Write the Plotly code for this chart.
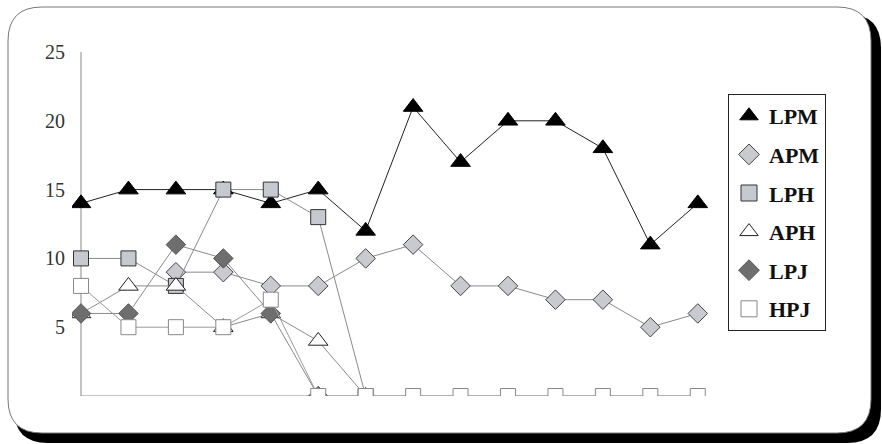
import plotly.graph_objects as go

# 14 observations along the x axis (no x labels on the original)
points = list(range(1, 15))

LPM = [14, 15, 15, 15, 14, 15, 12, 21, 17, 20, 20, 18, 11, 14]
APM = [None, None, 9, 9, 8, 8, 10, 11, 8, 8, 7, 7, 5, 6]
LPH = [10, 10, 8, 15, 15, 13, 0]
APH = [6, 8, 8, 5, 6, 4, 0]
LPJ = [6, 6, 11, 10, 6, 0]
HPJ = [8, 5, 5, 5, 7, 0, 0, 0, 0, 0, 0, 0, 0, 0]

y_ticks = [5, 10, 15, 20, 25]

series = [
    ("LPM", LPM, "triangle-up", 17, "black", "black", "#222222"),
    ("APM", APM, "diamond", 15, "#c9cacf", "#444444", "#8a8a8a"),
    ("LPH", LPH, "square", 15, "#c6c9d0", "#333333", "#8a8a8a"),
    ("APH", APH, "triangle-up", 17, "white", "#222222", "#8a8a8a"),
    ("LPJ", LPJ, "diamond", 15, "#6e6e6e", "#555555", "#8a8a8a"),
    ("HPJ", HPJ, "square", 15, "white", "#888888", "#9a9a9a"),
]

fig = go.Figure()

for name, vals, sym, size, fill, edge, lcol in series:
    fig.add_trace(go.Scatter(
        x=points[:len(vals)], y=vals, mode="lines+markers",
        line=dict(color=lcol, width=1),
        marker=dict(symbol=sym, size=size, color=fill, line=dict(color=edge, width=1)),
        showlegend=False, connectgaps=False,
    ))
    # marker-only entry for the legend
    fig.add_trace(go.Scatter(
        x=[None], y=[None], mode="markers", name=name, legendgroup=name,
        marker=dict(symbol=sym, size=size + 6, color=fill, line=dict(color=edge, width=1)),
    ))

# plot area in pixels: x 72..712, y 52..396 (x=1 sits at ~81px, x axis ends ~705px)
L, R, T, B = 72, 712, 52, 396
x_range = [0.81, 14.3]
x_axis_end = 14.15


def px(x):
    return (x - L) / (R - L)


def py(y):
    return (B - y) / (B - T)


def rounded(x0, y0, x1, y1, r):
    rx = r / (R - L)
    ry = r / (B - T)
    a0, a1, b0, b1 = px(x0), px(x1), py(y1), py(y0)
    return (f"M {a0 + rx} {b0} L {a1 - rx} {b0} Q {a1} {b0} {a1} {b0 + ry} "
            f"L {a1} {b1 - ry} Q {a1} {b1} {a1 - rx} {b1} "
            f"L {a0 + rx} {b1} Q {a0} {b1} {a0} {b1 - ry} "
            f"L {a0} {b0 + ry} Q {a0} {b0} {a0 + rx} {b0} Z")


fig.add_shape(type="path", xref="paper", yref="paper", layer="below",
              path=rounded(14, 14, 881, 443, 34), fillcolor="black", line=dict(width=0))
fig.add_shape(type="path", xref="paper", yref="paper", layer="below",
              path=rounded(8, 7, 871, 433, 34), fillcolor="white",
              line=dict(color="#777777", width=1))

# axis lines start at the first observation, like the original
fig.add_shape(type="line", xref="x", yref="y", x0=points[0], x1=points[0], y0=0, y1=y_ticks[-1],
              line=dict(color="#888888", width=1), layer="below")
fig.add_shape(type="line", xref="x", yref="y", x0=points[0], x1=x_axis_end, y0=0, y1=0,
              line=dict(color="#888888", width=1), layer="below")

fig.update_layout(
    width=882, height=444,
    margin=dict(l=L, r=882 - R, t=T, b=444 - B),
    paper_bgcolor="white", plot_bgcolor="rgba(0,0,0,0)",
    font=dict(family="Liberation Serif, Times New Roman, serif", color="#222222"),
    legend=dict(
        x=px(728), y=py(94), xanchor="left", yanchor="top",
        bgcolor="white", bordercolor="#222222", borderwidth=1,
        font=dict(size=22, family="Liberation Serif", color="#111111", weight="bold"),
        tracegroupgap=7, itemsizing="trace",
    ),
)

fig.update_xaxes(range=x_range, showgrid=False, zeroline=False, showticklabels=False,
                 ticks="", showline=False)
fig.update_yaxes(range=[0, 25], showgrid=False, zeroline=False, tickvals=y_ticks,
                 ticks="", showline=False,
                 tickfont=dict(size=20, family="Liberation Serif", color="#333333"),
                 ticklabelstandoff=6)

# the page body has an 8px default margin; drop it so the figure fills the window
fig.write_html("out.html", config={"displayModeBar": False},
               post_script="document.body.style.margin='0';")
